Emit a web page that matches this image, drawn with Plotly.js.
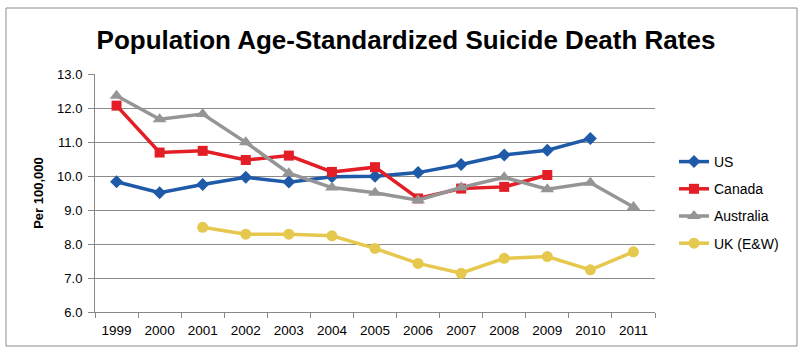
<!DOCTYPE html>
<html>
<head>
<meta charset="utf-8">
<script src="https://cdn.plot.ly/plotly-3.0.1.min.js"></script>
<style>
  html, body { margin: 0; padding: 0; background: #ffffff; }
  #chart { width: 808px; height: 359px; }
</style>
</head>
<body>
<div id="chart"></div>
<script>
const years = ["1999","2000","2001","2002","2003","2004","2005","2006","2007","2008","2009","2010","2011"];
const us        = [9.83, 9.51, 9.75, 9.96, 9.82, 9.98, 9.99, 10.10, 10.34, 10.62, 10.76, 11.10, null];
const canada    = [12.07, 10.69, 10.74, 10.47, 10.60, 10.12, 10.26, 9.34, 9.63, 9.68, 10.03, null, null];
const australia = [12.36, 11.67, 11.82, 10.99, 10.08, 9.66, 9.51, 9.29, 9.66, 9.96, 9.61, 9.80, 9.09];
const uk        = [null, null, 8.49, 8.29, 8.29, 8.24, 7.87, 7.43, 7.14, 7.58, 7.63, 7.24, 7.77];
const yTicks = [6, 7, 8, 9, 10, 11, 12, 13];
const yTickText = ["6.0","7.0","8.0","9.0","10.0","11.0","12.0","13.0"];

function series(name, y, color, symbol, size, group) {
  return {
    x: years, y: y, name: name, type: "scatter", mode: "lines+markers",
    legendgroup: group,
    line: { color: color, width: 3.5 },
    marker: { color: color, symbol: symbol, size: size },
    connectgaps: false
  };
}

const data = [
  series("US", us, "#1f5aa8", "diamond", 10, "a"),
  series("Canada", canada, "#e31e26", "square", 10, "b"),
  series("Australia", australia, "#959595", "triangle-up", 12, "c"),
  series("UK (E&W)", uk, "#e6c84f", "circle", 11, "d")
];

const W = 808, H = 359, L = 95, R = 153, T = 74, B = 47;
const pw = W - L - R, ph = H - T - B;
function px(x) { return (x - L) / pw; }
function py(y) { return (H - B - y) / ph; }

const layout = {
  width: W, height: H,
  margin: { l: L, r: R, t: T, b: B, pad: 0 },
  paper_bgcolor: "#ffffff",
  plot_bgcolor: "#ffffff",
  font: { family: "Liberation Sans, Arial, sans-serif", color: "#000000", size: 13 },
  title: {
    text: "<b>Population Age-Standardized Suicide Death Rates</b>",
    font: { family: "Liberation Sans, Arial, sans-serif", size: 26, color: "#000000" },
    x: 406 / W, xref: "container", xanchor: "center",
    y: 1 - 40 / H, yref: "container", yanchor: "middle"
  },
  xaxis: {
    type: "category",
    range: [-0.5, years.length - 0.5],
    tickson: "boundaries",
    ticks: "outside", ticklen: 5, tickcolor: "#888888",
    showline: true, linecolor: "#888888", linewidth: 1,
    showgrid: false, zeroline: false,
    ticklabelstandoff: 6,
    tickfont: { size: 13.5, family: "Liberation Sans, Arial, sans-serif" },
    fixedrange: true
  },
  yaxis: {
    range: [6, 13],
    tickvals: yTicks, ticktext: yTickText,
    ticks: "outside", ticklen: 6, tickcolor: "#888888",
    showline: true, linecolor: "#888888", linewidth: 1,
    showgrid: true, gridcolor: "#8c8c8c", gridwidth: 1,
    zeroline: false,
    ticklabelstandoff: 3,
    tickfont: { size: 13, family: "Liberation Sans, Arial, sans-serif" },
    title: { text: "<b>Per 100,000</b>", font: { size: 13 }, standoff: 10 },
    fixedrange: true
  },
  legend: {
    x: px(674), y: py(146), xanchor: "left", yanchor: "top",
    font: { size: 14, family: "Liberation Sans, Arial, sans-serif" },
    tracegroupgap: 6,
    bgcolor: "rgba(0,0,0,0)"
  },
  showlegend: true,
  shapes: [{
    type: "rect", xref: "paper", yref: "paper",
    x0: px(6), x1: px(797), y0: py(346), y1: py(8),
    line: { color: "#8c8c8c", width: 1 }, fillcolor: "rgba(0,0,0,0)", layer: "below"
  }]
};

Plotly.newPlot("chart", data, layout, { displayModeBar: false, staticPlot: true });
</script>
</body>
</html>
